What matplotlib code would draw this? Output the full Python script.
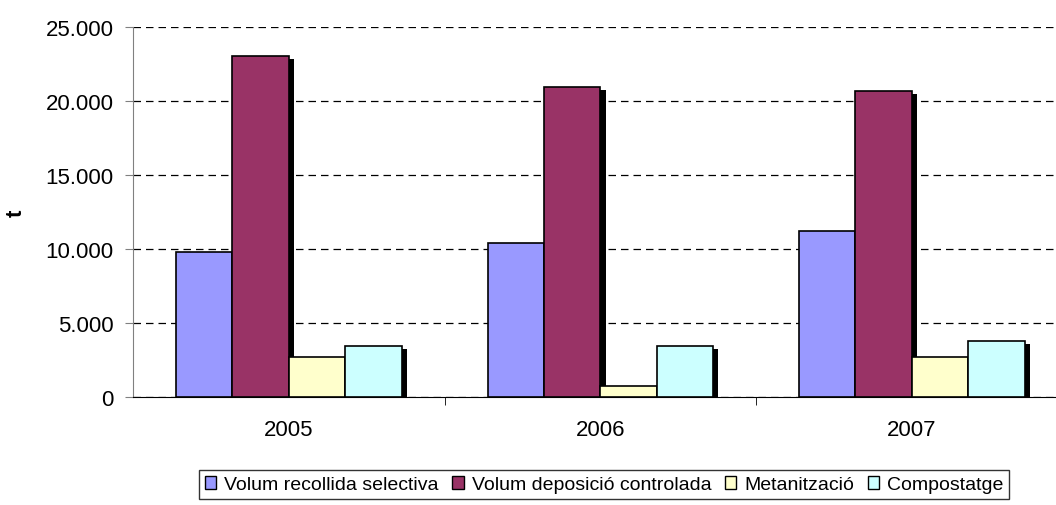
import numpy as np
import matplotlib.pyplot as plt
from matplotlib.patches import Patch
from matplotlib.ticker import FuncFormatter

plt.rcParams['font.family'] = ['Liberation Sans', 'DejaVu Sans']

# dades
anys = ['2005', '2006', '2007']
series = ['Volum recollida selectiva', 'Volum deposició controlada', 'Metanització', 'Compostatge']
recollida = [9800, 10400, 11200]
deposicio = [23050, 20950, 20700]
metanitzacio = [2680, 720, 2680]
compostatge = [3430, 3430, 3800]
colors = ['#9999FF', '#993366', '#FFFFCC', '#CCFFFF']

valors = [recollida, deposicio, metanitzacio, compostatge]

fig = plt.figure(figsize=(10.56, 5.06), dpi=100)
ax = fig.add_axes([0.126, 0.2134, 0.885, 0.7312])

x = np.arange(len(anys))
amplada = 0.181
dx_ombra = 0.017   # desplaçament de l'ombra (unitats de dades)
dy_ombra = 200

for i, (vals, col) in enumerate(zip(valors, colors)):
    pos = x + (i - 1.5) * amplada
    # ombra negra
    ax.bar(pos + dx_ombra, np.array(vals) - dy_ombra, amplada, color='black',
           edgecolor='none', zorder=2)
    ax.bar(pos, vals, amplada, color=col, edgecolor='black', linewidth=1.2,
           zorder=3)

ax.set_xlim(-0.5, 2.5)
ax.set_ylim(0, 25000)
ax.set_yticks(np.arange(0, 25001, 5000))
ax.yaxis.set_major_formatter(FuncFormatter(lambda v, p: f'{int(v):,}'.replace(',', '.')))
ax.yaxis.grid(True, linestyle=(0, (6, 4)), color='black', linewidth=0.9, zorder=0)
ax.set_axisbelow(True)

ax.set_xticks(x)
ax.set_xticklabels(anys)
ax.set_xticks([0.5, 1.5], minor=True)
ax.tick_params(axis='x', which='major', length=0, pad=16, labelsize=16)
ax.tick_params(axis='x', which='minor', length=6, color='black')
ax.tick_params(axis='y', length=6, color='#808080', labelsize=16, pad=8)

for s in ['top', 'right']:
    ax.spines[s].set_visible(False)
ax.spines['left'].set_color('#808080')
ax.spines['bottom'].set_color('black')

# etiqueta de l'eix y
fig.text(16 / 1056, 1 - 213 / 506, 't', rotation=90, fontsize=16,
         fontweight='bold', ha='center', va='center')

handles = [Patch(facecolor=c, edgecolor='black', linewidth=1) for c in colors]
leg = fig.legend(handles, series, loc='center', bbox_to_anchor=(0.572, 0.04),
                 ncol=4, frameon=True, fancybox=False, fontsize=14,
                 handlelength=0.6, handleheight=0.6, handletextpad=0.4,
                 columnspacing=0.7, borderpad=0.3, borderaxespad=0)
leg.get_frame().set_edgecolor('black')
leg.get_frame().set_linewidth(1)

fig.savefig('out.png', dpi=100)
